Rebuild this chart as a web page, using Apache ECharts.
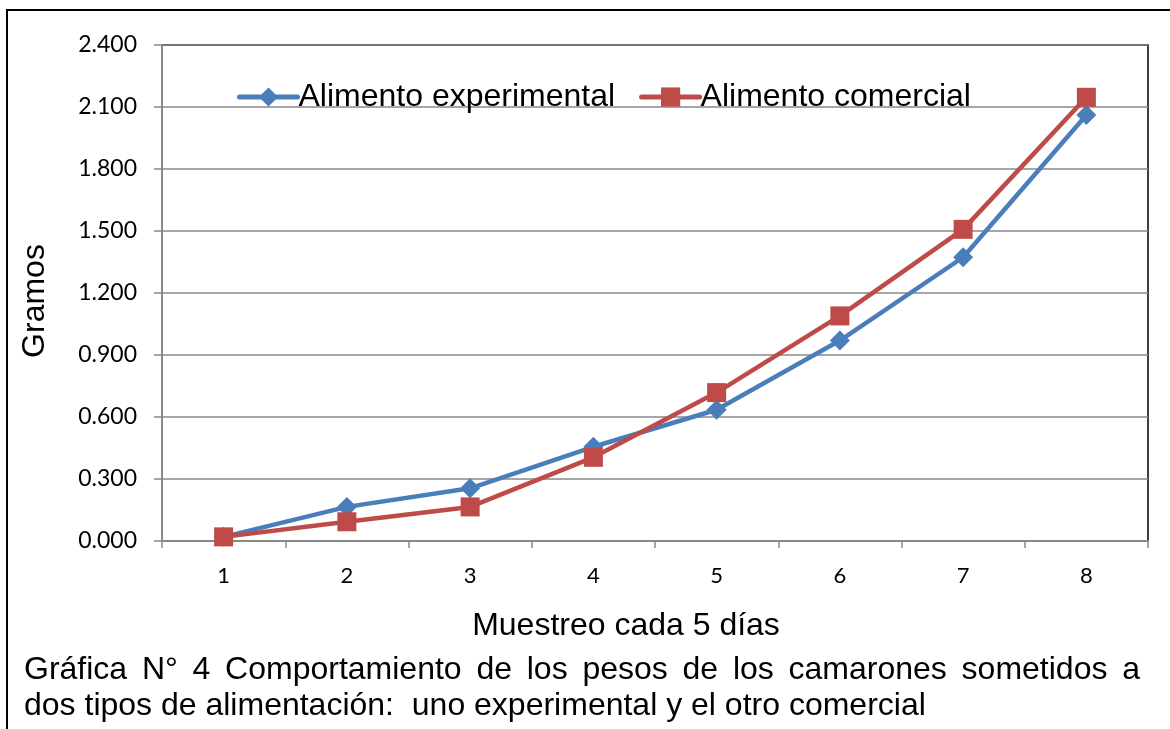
<!DOCTYPE html>
<html>
<head>
<meta charset="utf-8">
<script src="https://cdn.jsdelivr.net/npm/echarts@6/dist/echarts.min.js"></script>
<style>
  html, body { margin: 0; padding: 0; background: #fff; }
  #chart { width: 1170px; height: 729px; }
</style>
</head>
<body>
<div id="chart"></div>
<script>
// Muestreos (cada 5 días)
const muestreos = ['1', '2', '3', '4', '5', '6', '7', '8'];
// Peso promedio en gramos
const alimentoExperimental = [0.020, 0.165, 0.255, 0.456, 0.635, 0.970, 1.373, 2.061];
const alimentoComercial    = [0.020, 0.093, 0.165, 0.405, 0.718, 1.089, 1.508, 2.147];

const serieNombres = ['Alimento experimental', 'Alimento comercial'];
const tituloY = 'Gramos';
const tituloX = 'Muestreo cada 5 días';
const leyenda1 = 'Gráfica N° 4 Comportamiento de los pesos de los camarones sometidos a';
const leyenda2 = 'dos tipos de alimentación:  uno experimental y el otro comercial';

const AZUL = '#4A7EBB';
const ROJO = '#BE4B48';
const GRIS = '#898989';
const FUENTE = "'Liberation Sans', Arial, sans-serif";
const FUENTE_EJES = "Lato, 'Liberation Sans', sans-serif";

// Justify the first caption line across the text block width
function lineaJustificada(texto, ancho, font) {
  const ctx = document.createElement('canvas').getContext('2d');
  ctx.font = font;
  const palabras = texto.split(' ');
  const sinEspacios = palabras.reduce((s, p) => s + ctx.measureText(p).width, 0);
  const hueco = (ancho - sinEspacios) / (palabras.length - 1);
  return {
    text: palabras.map(p => '{w|' + p + '}').join('{sp|\u00a0}'),
    rich: { w: {}, sp: { width: hueco } }
  };
}

const chart = echarts.init(document.getElementById('chart'), null, { renderer: 'canvas' });
const just = lineaJustificada(leyenda1, 1116, '32px ' + FUENTE);

chart.setOption({
  animation: false,
  backgroundColor: '#fff',
  grid: {
    left: 162, top: 45, right: 22, bottom: 188,
    show: true, borderColor: '#000', borderWidth: 1.5, backgroundColor: 'transparent'
  },
  legend: {
    left: 237, top: 81, padding: 0,
    itemWidth: 58, itemHeight: 24, itemGap: 24,
    lineStyle: { width: 5, cap: 'round' },
    textStyle: { fontFamily: FUENTE, fontSize: 32, color: '#000', padding: [0, 0, 0, -4] },
    data: serieNombres
  },
  xAxis: {
    type: 'category',
    data: muestreos,
    boundaryGap: true,
    axisLine: { lineStyle: { color: GRIS, width: 2 } },
    axisTick: { show: true, alignWithLabel: false, length: 7, lineStyle: { color: GRIS, width: 1.5 } },
    axisLabel: { fontFamily: FUENTE_EJES, fontSize: 22, color: '#000', margin: 24 },
    splitLine: { show: false }
  },
  yAxis: {
    type: 'value',
    min: 0, max: 2.4, interval: 0.3,
    axisLine: { show: true, lineStyle: { color: GRIS, width: 2 } },
    axisTick: { show: true, length: 8, lineStyle: { color: GRIS, width: 1.5 } },
    axisLabel: {
      fontFamily: FUENTE_EJES, fontSize: 23, color: '#000', margin: 25,
      formatter: v => v.toFixed(3)
    },
    splitLine: { show: true, lineStyle: { color: GRIS, width: 1.5 } }
  },
  series: [
    {
      name: serieNombres[0], type: 'line', data: alimentoExperimental,
      symbol: 'diamond', symbolSize: 20, showAllSymbol: true,
      lineStyle: { color: AZUL, width: 4.5 },
      itemStyle: { color: AZUL, borderWidth: 0 },
      emphasis: { disabled: true }
    },
    {
      name: serieNombres[1], type: 'line', data: alimentoComercial,
      symbol: 'rect', symbolSize: 19, showAllSymbol: true,
      lineStyle: { color: ROJO, width: 4.5 },
      itemStyle: { color: ROJO, borderWidth: 0 },
      emphasis: { disabled: true }
    }
  ],
  graphic: [
    { // outer frame (top and left edges)
      type: 'polyline', silent: true,
      shape: { points: [[7, 729], [7, 10], [1170, 10]] },
      style: { stroke: '#000', lineWidth: 2, fill: null }
    },
    {
      type: 'text', x: 35, y: 301, rotation: Math.PI / 2,
      style: { text: tituloY, font: '32px ' + FUENTE, fill: '#000', align: 'center', verticalAlign: 'middle' }
    },
    {
      type: 'text', x: 626, y: 626,
      style: { text: tituloX, font: '32px ' + FUENTE, fill: '#000', align: 'center', verticalAlign: 'middle' }
    },
    {
      type: 'text', x: 24, y: 670,
      style: { text: just.text, rich: just.rich, font: '32px ' + FUENTE, fill: '#000', align: 'left', verticalAlign: 'middle' }
    },
    {
      type: 'text', x: 24, y: 706,
      style: { text: leyenda2, font: '32px ' + FUENTE, fill: '#000', align: 'left', verticalAlign: 'middle' }
    }
  ]
});
</script>
</body>
</html>
